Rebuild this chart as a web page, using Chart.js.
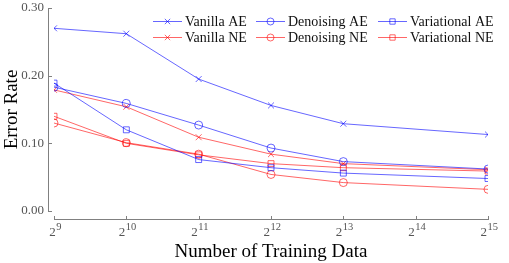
<!DOCTYPE html>
<html>
<head>
<meta charset="utf-8">
<script src="https://cdn.jsdelivr.net/npm/chart.js@4"></script>
<style>
  html, body { margin: 0; padding: 0; background: #fff; }
  #wrap { width: 509px; height: 263px; }
</style>
</head>
<body>
<div id="wrap"><canvas id="chart" width="509" height="263"></canvas></div>
<script>
// training set size exponents (2^n)
const exponents = [9, 10, 11, 12, 13, 15];
const xTicks = [9, 10, 11, 12, 13, 14, 15];
const yTicks = [0, 0.1, 0.2, 0.3];

const vanillaAE = [0.270, 0.262, 0.195, 0.156, 0.129, 0.113];
const denoisingAE = [0.183, 0.159, 0.127, 0.093, 0.073, 0.062];
const variationalAE = [0.189, 0.120, 0.076, 0.064, 0.056, 0.048];
const vanillaNE = [0.179, 0.154, 0.109, 0.084, 0.070, 0.061];
const denoisingNE = [0.130, 0.101, 0.084, 0.054, 0.042, 0.032];
const variationalNE = [0.140, 0.100, 0.083, 0.070, 0.064, 0.059];

const BLUE = "rgba(0, 0, 255, 0.6)";
const RED = "rgba(255, 0, 0, 0.6)";
const FONT = "'Liberation Serif', 'Times New Roman', serif";
const AXIS_COLOR = "#808080";

function series(label, values, color, style) {
  return {
    label: label,
    data: exponents.map((e, i) => ({ x: e, y: values[i] })),
    borderColor: color,
    backgroundColor: "rgba(0,0,0,0)",
    pointBorderColor: color,
    pointBackgroundColor: "rgba(0,0,0,0)",
    pointStyle: style,
    pointRadius: style === "circle" ? 4 : 4.2,
    pointBorderWidth: 1,
    borderWidth: 1,
    showLine: true,
    tension: 0
  };
}

const datasets = [
  series("Vanilla AE", vanillaAE, BLUE, "crossRot"),
  series("Denoising AE", denoisingAE, BLUE, "circle"),
  series("Variational AE", variationalAE, BLUE, "rect"),
  series("Vanilla NE", vanillaNE, RED, "crossRot"),
  series("Denoising NE", denoisingNE, RED, "circle"),
  series("Variational NE", variationalNE, RED, "rect")
];

// offset axes, tick labels and legend like the original figure
const offsetAxes = {
  id: "offsetAxes",
  beforeDatasetsDraw(chart) {
    const { ctx, chartArea, scales } = chart;
    const x = scales.x, y = scales.y;
    const ax = chartArea.left - 6;
    const ay = chartArea.bottom + 8;
    ctx.save();
    ctx.strokeStyle = AXIS_COLOR;
    ctx.lineWidth = 1;
    ctx.beginPath();
    ctx.moveTo(ax + 0.5, y.getPixelForValue(0.3));
    ctx.lineTo(ax + 0.5, y.getPixelForValue(0));
    yTicks.forEach(v => {
      const py = Math.round(y.getPixelForValue(v)) + 0.5;
      ctx.moveTo(ax, py);
      ctx.lineTo(ax + 4, py);
    });
    ctx.moveTo(x.getPixelForValue(9), ay + 0.5);
    ctx.lineTo(x.getPixelForValue(15), ay + 0.5);
    xTicks.forEach(v => {
      const px = Math.round(x.getPixelForValue(v)) + 0.5;
      ctx.moveTo(px, ay + 1);
      ctx.lineTo(px, ay - 3);
    });
    ctx.stroke();

    ctx.fillStyle = "#555";
    // y tick labels
    ctx.font = "13px " + FONT;
    ctx.textAlign = "right";
    ctx.textBaseline = "middle";
    yTicks.forEach(v => {
      ctx.fillText(v.toFixed(2), ax - 4, y.getPixelForValue(v));
    });

    // power-of-two tick labels
    ctx.textBaseline = "alphabetic";
    ctx.textAlign = "left";
    xTicks.forEach(v => {
      const px = x.getPixelForValue(v);
      ctx.font = "13px " + FONT;
      const wb = ctx.measureText("2").width;
      ctx.font = "10.5px " + FONT;
      const we = ctx.measureText(String(v)).width;
      const start = px - (wb + we) / 2 + 1;
      const base = ay + 17;
      ctx.font = "13px " + FONT;
      ctx.fillText("2", start, base);
      ctx.font = "10.5px " + FONT;
      ctx.fillText(String(v), start + wb + 0.5, base - 6);
    });
    ctx.restore();
  },
  afterDraw(chart) {
    const { ctx } = chart;
    const cols = [153, 256, 378];
    const rows = [21, 37];
    ctx.save();
    chart.data.datasets.forEach((ds, i) => {
      const cx = cols[i % 3];
      const cy = rows[Math.floor(i / 3)];
      ctx.strokeStyle = ds.borderColor;
      ctx.lineWidth = 1;
      ctx.beginPath();
      ctx.moveTo(cx, cy + 0.5);
      ctx.lineTo(cx + 29, cy + 0.5);
      ctx.stroke();
      ctx.fillStyle = "rgba(0,0,0,0)";
      Chart.helpers.drawPoint(ctx, {
        pointStyle: ds.pointStyle,
        radius: ds.pointStyle === "circle" ? 3.5 : 3.8,
        borderWidth: 1,
        rotation: 0
      }, cx + 14.5, cy + 0.5);
      ctx.fillStyle = "#111";
      ctx.font = "14px " + FONT;
      ctx.textAlign = "left";
      ctx.textBaseline = "middle";
      ctx.fillText(ds.label, cx + 32, cy + 1);
    });
    ctx.restore();
  }
};

new Chart(document.getElementById("chart").getContext("2d"), {
  type: "scatter",
  data: { datasets: datasets },
  plugins: [offsetAxes],
  options: {
    responsive: false,
    animation: false,
    devicePixelRatio: 1,
    layout: { padding: { top: 8, right: 21, left: 0, bottom: 0 } },
    plugins: { legend: { display: false }, tooltip: { enabled: false } },
    scales: {
      x: {
        type: "linear",
        min: 9,
        max: 15,
        grid: { display: false, drawTicks: false },
        border: { display: false },
        ticks: { display: false, stepSize: 1 },
        title: {
          display: true,
          text: "Number of Training Data",
          color: "#000",
          font: { family: FONT, size: 19 },
          padding: { top: 2, bottom: 0 }
        },
        afterFit(s) { s.height = 52; }
      },
      y: {
        min: 0,
        max: 0.3,
        grid: { display: false, drawTicks: false },
        border: { display: false },
        ticks: { display: false, stepSize: 0.1 },
        title: {
          display: true,
          text: "Error Rate",
          color: "#000",
          font: { family: FONT, size: 19 },
          padding: { top: 1, bottom: 0 }
        },
        afterFit(s) { s.width = 54; }
      }
    }
  }
});
</script>
</body>
</html>
